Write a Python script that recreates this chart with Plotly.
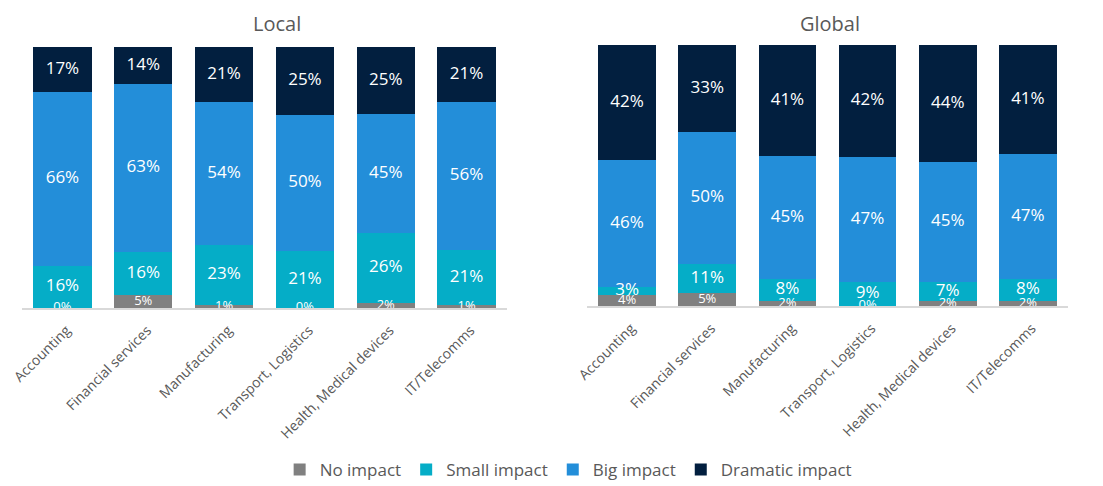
import plotly.graph_objects as go

categories = ["Accounting", "Financial services", "Manufacturing",
              "Transport, Logistics", "Health, Medical devices", "IT/Telecomms"]

local_no = [0, 5, 1, 0, 2, 1]
local_small = [16, 16, 23, 21, 26, 21]
local_big = [66, 63, 54, 50, 45, 56]
local_dramatic = [17, 14, 21, 25, 25, 21]

global_no = [4, 5, 2, 0, 2, 2]
global_small = [3, 11, 8, 9, 7, 8]
global_big = [46, 50, 45, 47, 45, 47]
global_dramatic = [42, 33, 41, 42, 44, 41]

series_names = ["No impact", "Small impact", "Big impact", "Dramatic impact"]
colors = ["#808080", "#05adc7", "#238ed9", "#021f3f"]

FONT = "Open Sans"
GREY = "#595959"

fig = go.Figure()

panels = [
    ("x", "y", [local_no, local_small, local_big, local_dramatic], True),
    ("x2", "y2", [global_no, global_small, global_big, global_dramatic], False),
]

for xa, ya, data, show in panels:
    totals = [sum(v) for v in zip(*data)]
    cum = [0] * len(categories)
    for i, (name, vals, col) in enumerate(zip(series_names, data, colors)):
        fig.add_trace(go.Bar(
            x=categories, y=vals, name=name, marker_color=col,
            marker_line_width=0,
            xaxis=xa, yaxis=ya, showlegend=show, legendgroup=name,
            hoverinfo="skip",
        ))
        centers = [(c + v / 2) / t * 100 for c, v, t in zip(cum, vals, totals)]
        cum = [c + v for c, v in zip(cum, vals)]
        fig.add_trace(go.Scatter(
            x=categories, y=centers,
            mode="text", text=[f"{v}%" for v in vals],
            textposition="middle center",
            textfont=dict(color="white", size=(13 if i == 0 else 17), family=FONT),
            cliponaxis=True, showlegend=False, xaxis=xa, yaxis=ya,
            hoverinfo="skip",
        ))

axis_common = dict(showline=True, linecolor="#d9d9d9", linewidth=1.5,
                   ticks="", tickangle=-45, showgrid=False, automargin=False,
                   ticklabelstandoff=7, ticklabelshift=4,
                   tickfont=dict(size=14, color=GREY, family=FONT))
yaxis_common = dict(range=[0, 100], visible=False, showgrid=False,
                    automargin=False)

fig.update_layout(
    width=1095, height=478,
    margin=dict(l=0, r=0, t=0, b=0, autoexpand=False),
    paper_bgcolor="white", plot_bgcolor="white",
    barmode="stack", barnorm="percent", bargap=0.28,
    font=dict(family=FONT, color=GREY),
    xaxis=dict(domain=[0.0128, 0.4557], anchor="y", **axis_common),
    yaxis=dict(domain=[0.3724, 0.9184], anchor="x", **yaxis_common),
    xaxis2=dict(domain=[0.5288, 0.9680], anchor="y2", **axis_common),
    yaxis2=dict(domain=[0.3766, 0.9226], anchor="x2", **yaxis_common),
    legend=dict(orientation="h", x=0.512, xanchor="center", y=0.0335,
                yanchor="middle", font=dict(size=17, color=GREY, family=FONT),
                traceorder="normal", itemwidth=30),
    annotations=[
        dict(text="Local", x=0.2457, y=1.0, xref="paper", yref="paper",
             xanchor="center", yanchor="top",
             showarrow=False, font=dict(size=20, color=GREY, family=FONT)),
        dict(text="Global", x=0.7507, y=1.0, xref="paper", yref="paper",
             xanchor="center", yanchor="top",
             showarrow=False, font=dict(size=20, color=GREY, family=FONT)),
    ],
)

fig.write_html("out.html")
